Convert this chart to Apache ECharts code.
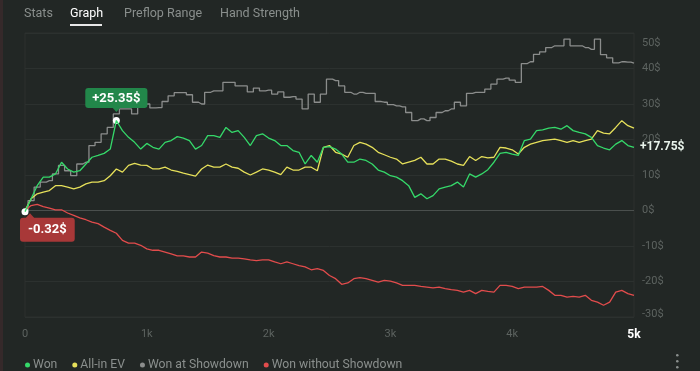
<!DOCTYPE html>
<html><head><meta charset="utf-8">
<script src="https://cdn.jsdelivr.net/npm/echarts@6/dist/echarts.min.js"></script>
<style>html,body{margin:0;padding:0;background:#222725;overflow:hidden}#c{width:700px;height:371px}</style>
</head><body><div id="c"></div>
<script>
// hands played (x)
const hands = [
  0,50,100,150,200,250,300,350,400,450,
  500,550,600,650,700,750,800,850,900,950,
  1000,1050,1100,1150,1200,1250,1300,1350,1400,1450,
  1500,1550,1600,1650,1700,1750,1800,1850,1900,1950,
  2000,2050,2100,2150,2200,2250,2300,2350,2400,2450,
  2500,2550,2600,2650,2700,2750,2800,2850,2900,2950,
  3000,3050,3100,3150,3200,3250,3300,3350,3400,3450,
  3500,3550,3600,3650,3700,3750,3800,3850,3900,3950,
  4000,4050,4100,4150,4200,4250,4300,4350,4400,4450,
  4500,4550,4600,4650,4700,4750,4800,4850,4900,4950,
  5000];
const won = [
  -0.32,3.3,7.0,9.4,9.4,10.3,13.6,11.7,10.8,11.2,
  13.1,15.0,15.5,16.1,17.3,25.35,22.5,20.6,19.2,17.3,
  18.9,17.8,17.3,19.2,19.7,20.8,20.4,19.7,17.3,18.3,
  21.1,21.1,20.6,23.4,22.0,22.5,20.6,18.3,21.1,21.6,
  20.4,19.7,18.3,18.3,16.9,16.4,13.1,15.5,13.6,17.8,
  18.0,17.3,15.9,13.6,13.6,14.5,14.1,13.1,11.4,10.8,
  9.8,9.4,8.4,7.0,3.7,4.7,3.3,4.2,6.1,6.6,
  7.0,8.0,6.6,10.3,9.4,10.3,11.5,13.6,16.1,16.4,
  15.9,15.5,19.7,20.1,22.5,22.7,23.2,23.4,22.9,23.9,
  22.5,22.0,21.6,20.6,18.3,17.6,17.1,18.7,19.7,18.3,
  17.75];
const allinEV = [
  0,3.3,4.7,5.2,5.6,7.0,7.0,6.6,6.1,6.6,
  7.5,8.0,8.0,8.4,9.8,11.7,10.8,12.7,13.3,12.8,
  12.7,11.7,11.7,12.2,11.4,11.0,10.5,10.1,9.7,11.7,
  12.8,12.2,12.2,13.1,12.2,11.9,10.8,10.0,10.8,11.7,
  11.4,10.8,10.1,12.2,11.4,11.4,12.2,12.2,11.2,17.8,
  18.3,16.4,15.9,15.0,18.3,19.2,18.7,17.8,16.4,15.7,
  15.0,14.5,13.1,13.6,14.1,15.0,13.1,13.1,14.5,14.5,
  13.9,13.1,12.7,15.2,14.1,15.2,14.8,15.0,17.8,17.6,
  17.1,15.9,17.8,18.7,19.2,19.7,19.9,20.1,19.7,19.2,
  19.7,19.2,19.7,20.1,22.5,21.8,21.6,23.4,25.3,23.9,
  23.2];
const showdown = [
  0,2.8,6.6,8.0,8.4,10.3,12.7,11.2,9.8,13.1,
  13.6,18.3,19.2,21.6,23.4,27.2,28.6,28.6,27.2,30.0,
  30.0,28.9,29.0,30.7,32.3,33.2,33.2,32.6,30.5,30.0,
  33.3,33.7,33.7,36.1,36.1,35.1,35.1,33.4,34.5,33.7,
  33.9,32.8,33.4,31.9,32.1,31.4,28.6,32.8,30.5,32.8,
  37.0,36.6,35.1,33.3,32.8,33.3,33.0,33.0,30.7,30.5,
  29.8,29.5,29.2,27.6,25.3,25.8,25.3,26.2,27.6,28.1,
  28.6,30.5,29.5,33.0,33.3,33.3,34.2,35.6,37.0,37.3,
  36.7,36.1,41.4,41.9,44.0,44.7,45.9,46.4,46.4,48.3,
  46.4,46.4,45.9,45.4,48.3,43.9,43.0,41.6,41.9,41.8,
  41.5];
const noShowdown = [
  0,1.4,1.7,1.1,0.7,0.2,0.2,-0.7,-1.4,-2.1,
  -2.6,-3.3,-3.7,-4.7,-5.6,-6.4,-8.4,-9.2,-9.2,-9.8,
  -10.8,-11.2,-11.2,-11.7,-12.2,-12.8,-12.8,-13.1,-13.1,-11.7,
  -12.0,-12.7,-13.1,-13.1,-13.4,-13.4,-13.6,-13.9,-14.1,-13.9,
  -13.9,-14.5,-15.0,-14.5,-15.0,-15.5,-15.9,-16.7,-16.4,-16.9,
  -18.3,-19.2,-20.8,-20.4,-19.2,-18.9,-19.2,-19.7,-20.2,-19.7,
  -19.9,-20.4,-21.1,-21.1,-21.1,-21.4,-21.6,-21.8,-21.6,-22.0,
  -22.3,-22.5,-23.0,-22.5,-23.4,-22.5,-22.8,-23.0,-21.1,-21.1,
  -21.4,-22.0,-21.6,-21.6,-21.6,-21.4,-22.5,-23.9,-23.9,-24.4,
  -24.2,-24.4,-23.9,-25.3,-25.8,-26.7,-25.8,-23.0,-22.5,-23.4,
  -23.9];
const seriesNames = ['Won','All-in EV','Won at Showdown','Won without Showdown'];
const tabs = ['Stats','Graph','Preflop Range','Hand Strength'];
const xTicks = {0:'0',1000:'1k',2000:'2k',3000:'3k',4000:'4k',5000:'5k'};

const FONT = 'Roboto, "Liberation Sans", sans-serif';
const C_GREEN = '#35d96a', C_YEL = '#e6e05a', C_GRAY = '#8b8d8c', C_RED = '#e24c4c';
const pair = arr => hands.map((h, i) => [h, arr[i]]);
const fmt = v => (v > 0 ? '+' : '') + v.toFixed(2) + '$';

const chart = echarts.init(document.getElementById('c'), null, {renderer: 'canvas'});
const gridLine = '#2c312f';
chart.setOption({
  backgroundColor: '#222725',
  animation: false,
  textStyle: {fontFamily: FONT},
  grid: {left: 25, right: 66, top: 33, bottom: 54, show: true, borderColor: gridLine, borderWidth: 1},
  legend: {
    data: seriesNames, left: 20, top: 354, icon: 'circle', itemWidth: 5, itemHeight: 5, itemGap: 15,
    textStyle: {color: '#8a8f8d', fontSize: 12.2, fontFamily: FONT, padding: [0, 0, 0, -2]}
  },
  xAxis: {
    type: 'value', min: 0, max: 5000, interval: 1000,
    axisLine: {show: false}, axisTick: {show: false}, splitLine: {show: false},
    axisLabel: {
      margin: 12, fontSize: 11, color: '#5d6360',
      formatter: v => v === 5000 ? '{b|' + xTicks[v] + '}' : xTicks[v],
      rich: {b: {color: '#ffffff', fontWeight: 'bold', fontSize: 12}}
    }
  },
  yAxis: {
    type: 'value', position: 'right', min: -30, max: 50, interval: 10,
    axisLine: {show: false}, axisTick: {show: false},
    splitLine: {lineStyle: {color: [gridLine, gridLine, gridLine, '#4a4f4d', gridLine, gridLine, gridLine, gridLine, gridLine], width: 1}},
    axisLabel: {
      margin: 8, fontSize: 11, color: '#5d6360',
      formatter: v => v === 50 ? '{t|' + v + '$}' : (v === -30 ? '{d|' + v + '$}' : v + '$'),
      rich: {t: {padding: [20, 0, 0, 0], color: '#5d6360', fontSize: 11}, d: {padding: [0, 0, 6, 0], color: '#5d6360', fontSize: 11}}
    }
  },
  series: [
    {name: 'Won at Showdown', type: 'line', data: pair(showdown), symbol: 'none', z: 2, step: 'middle',
     lineStyle: {color: C_GRAY, width: 1.3}, itemStyle: {color: C_GRAY}},
    {name: 'Won without Showdown', type: 'line', data: pair(noShowdown), symbol: 'none', z: 3,
     lineStyle: {color: C_RED, width: 1.3}, itemStyle: {color: C_RED}},
    {name: 'All-in EV', type: 'line', data: pair(allinEV), symbol: 'none', z: 4,
     lineStyle: {color: C_YEL, width: 1.3}, itemStyle: {color: C_YEL}},
    {name: 'Won', type: 'line', data: pair(won), symbol: 'none', z: 5,
     lineStyle: {color: C_GREEN, width: 1.3}, itemStyle: {color: C_GREEN},
     endLabel: {show: true, distance: 6, color: '#e9f4ec', fontWeight: 'bold', fontSize: 12,
       formatter: p => fmt(p.value[1])},
     markPoint: {
       silent: true, animation: false,
       data: [
         {type: 'max', symbol: 'triangle', symbolRotate: 180, symbolSize: [9, 5], symbolOffset: [0, -11],
          itemStyle: {color: '#22874a'}, label: {show: false}},
         {type: 'max', symbol: 'circle', symbolSize: 7, itemStyle: {color: '#ffffff'},
          label: {show: true, position: 'top', distance: 9, backgroundColor: '#22874a', borderRadius: 3,
            padding: [4, 7, 3, 7], color: '#ffffff', fontWeight: 'bold', fontSize: 13, formatter: p => fmt(p.value)}},
         {type: 'min', symbol: 'triangle', symbolSize: [9, 5], symbolOffset: [5, 4],
          itemStyle: {color: '#a83838'}, label: {show: false}},
         {type: 'min', symbol: 'circle', symbolSize: 7, itemStyle: {color: '#ffffff'},
          label: {show: true, position: [-1.5, 9.5], backgroundColor: '#a83838', borderRadius: 3,
            padding: [6, 8, 5, 8], color: '#ffffff', fontWeight: 'bold', fontSize: 13, formatter: p => fmt(p.value)}}
       ]
     }}
  ],
  graphic: [
    {type: 'rect', left: 0, top: 0, shape: {width: 3, height: 371}, style: {fill: '#35292a'}, silent: true},
    {type: 'text', left: 24, top: 7, style: {text: tabs[0], fill: '#8a8f8d', font: '12.5px ' + FONT}},
    {type: 'text', left: 70, top: 7, style: {text: tabs[1], fill: '#ffffff', font: '12.5px ' + FONT}},
    {type: 'rect', left: 70, top: 24, shape: {width: 32, height: 2}, style: {fill: '#e8e8e8'}},
    {type: 'text', left: 124, top: 7, style: {text: tabs[2], fill: '#8a8f8d', font: '12.5px ' + FONT}},
    {type: 'text', left: 220, top: 7, style: {text: tabs[3], fill: '#8a8f8d', font: '12.5px ' + FONT}},
    {type: 'circle', left: 676, top: 354, shape: {r: 1.3}, style: {fill: '#8a8f8d'}},
    {type: 'circle', left: 676, top: 360, shape: {r: 1.3}, style: {fill: '#8a8f8d'}},
    {type: 'circle', left: 676, top: 366, shape: {r: 1.3}, style: {fill: '#8a8f8d'}}
  ]
});
</script></body></html>
